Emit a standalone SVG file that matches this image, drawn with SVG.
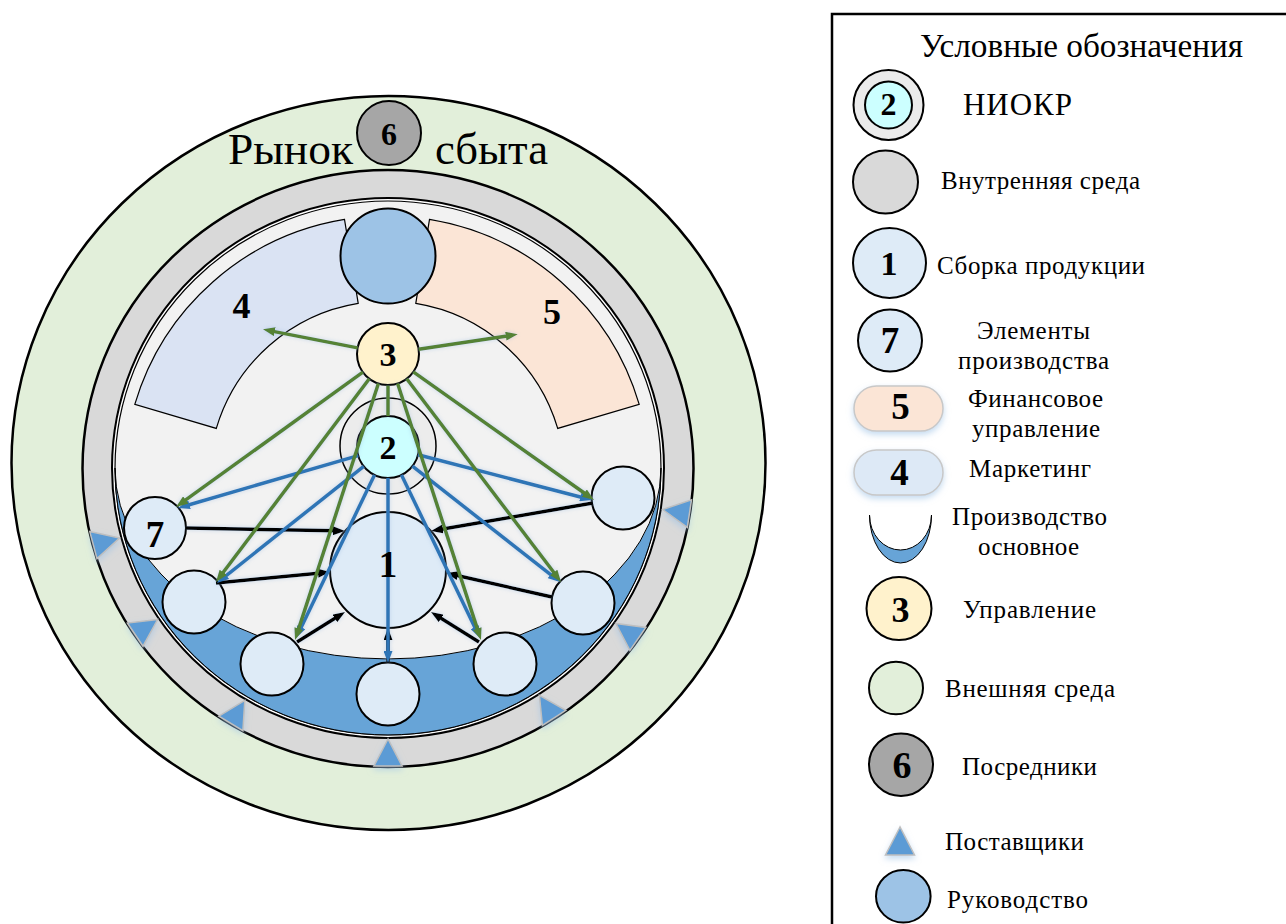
<svg xmlns="http://www.w3.org/2000/svg" width="1286" height="924" viewBox="0 0 1286 924">
  <style>
    .lbl { font-family: "Liberation Serif", "Times New Roman", serif; fill: #000; }
    .num { font-family: "Liberation Serif", "Times New Roman", serif; font-weight: bold; text-anchor: middle; fill: #000; }
    .node { stroke: #000; stroke-width: 2; }
    .elem { fill: #deebf7; stroke: #000; stroke-width: 2; }
    .g { stroke: #548235; stroke-width: 3.5; fill: none; }
    .b { stroke: #2e75b6; stroke-width: 3.5; fill: none; }
    .k { stroke: #000; stroke-width: 3.5; fill: none; }
    .sup { fill: #5b9bd5; stroke: #bfbfbf; stroke-width: 1.5; }
    .leg { font-size: 25px; text-anchor: middle; }
  </style>
  <defs>
    <marker id="ah-g" viewBox="0 0 12 9" refX="3" refY="4.5" markerWidth="12" markerHeight="9" markerUnits="userSpaceOnUse" orient="auto">
      <path d="M0,0 L12,4.5 L0,9 z" fill="#548235"/>
    </marker>
    <marker id="ah-b" viewBox="0 0 12 9" refX="3" refY="4.5" markerWidth="12" markerHeight="9" markerUnits="userSpaceOnUse" orient="auto">
      <path d="M0,0 L12,4.5 L0,9 z" fill="#2e75b6"/>
    </marker>
    <marker id="ah-k" viewBox="0 0 12 9" refX="3" refY="4.5" markerWidth="12" markerHeight="9" markerUnits="userSpaceOnUse" orient="auto">
      <path d="M0,0 L12,4.5 L0,9 z" fill="#000"/>
    </marker>
    <filter id="halo" x="-20%" y="-20%" width="140%" height="140%">
      <feDropShadow dx="0" dy="0" stdDeviation="2" flood-color="#8fb4dc" flood-opacity="0.45"/>
    </filter>
    <filter id="soft" x="-30%" y="-30%" width="160%" height="180%">
      <feDropShadow dx="0" dy="3" stdDeviation="3" flood-color="#9dc3e6" flood-opacity="0.6"/>
    </filter>
  </defs>

  <!-- environment rings -->
  <g id="external-env">
    <ellipse cx="388.5" cy="463" rx="377" ry="367" fill="#e2efda" stroke="#000" stroke-width="2.5"/>
  </g>
  <g id="internal-env">
    <ellipse cx="388" cy="468.5" rx="305.5" ry="298.5" fill="#d9d9d9" stroke="#000" stroke-width="2.5"/>
    <ellipse cx="388" cy="468" rx="276" ry="270" fill="#ffffff" stroke="#000" stroke-width="2"/>
    <ellipse cx="388" cy="468" rx="273" ry="267" fill="#f2f2f2" stroke="#000" stroke-width="1.2"/>
  </g>

  <!-- main production crescent -->
  <g id="production">
    <path d="M115,468 A273,267 0 0 0 661,468 A273,191 0 0 1 115,468 Z" fill="#67a4d7" stroke="#000" stroke-width="1"/>
  </g>

  <!-- marketing and finance sectors -->
  <g id="marketing">
    <path d="M134.8,404.3 A263,263 0 0 1 344.5,219.4 L358.2,303.3 A178,178 0 0 0 216.3,428.4 Z" fill="#dae3f3" stroke="#000" stroke-width="1.2"/>
    <text class="num" x="241.5" y="318" font-size="36">4</text>
  </g>
  <g id="finance">
    <path d="M429.5,219.4 A263,263 0 0 1 639.2,404.3 L557.7,428.4 A178,178 0 0 0 415.8,303.3 Z" fill="#fbe5d6" stroke="#000" stroke-width="1.2"/>
    <text class="num" x="552" y="324" font-size="36">5</text>
  </g>

  <g id="leadership">
    <circle cx="388" cy="256" r="47.5" fill="#9dc3e6" class="node"/>
  </g>

  <!-- nodes -->
  <g id="n3">
    <circle cx="388" cy="354" r="31" fill="#fff2cc" class="node"/>
    <text class="num" x="388" y="366" font-size="34">3</text>
  </g>
  <g id="n2">
    <circle cx="388" cy="446" r="48" fill="#ececec" stroke="#000" stroke-width="1.5"/>
    <circle cx="388" cy="447" r="31" fill="#ccffff" class="node"/>
    <text class="num" x="388" y="459" font-size="34">2</text>
  </g>
  <g id="n1">
    <circle cx="388" cy="570" r="58" class="elem"/>
  </g>
  <g id="n7">
    <circle cx="155" cy="528" r="31" class="elem"/>
    <text class="num" x="155" y="547" font-size="37">7</text>
  </g>
  <g id="e-left2"><circle cx="194" cy="602" r="31.5" class="elem"/></g>
  <g id="e-left3"><circle cx="272" cy="664" r="31.5" class="elem"/></g>
  <g id="e-bottom"><circle cx="388" cy="694" r="31.5" class="elem"/></g>
  <g id="e-right3"><circle cx="505" cy="664" r="31.5" class="elem"/></g>
  <g id="e-right2"><circle cx="583" cy="603" r="31.5" class="elem"/></g>
  <g id="e-righttop"><circle cx="623" cy="498" r="31.5" class="elem"/></g>

  <!-- connectors -->
  <g id="connectors" filter="url(#halo)">
    <!-- element flows into assembly -->
    <line class="k" x1="388" y1="663" x2="388" y2="637" marker-end="url(#ah-k)"/>
    <line class="k" x1="186" y1="528" x2="336" y2="530.8" marker-end="url(#ah-k)"/>
    <line class="k" x1="216" y1="583" x2="321" y2="572.9" marker-end="url(#ah-k)"/>
    <line class="k" x1="297" y1="642" x2="337.4" y2="616.8" marker-end="url(#ah-k)"/>
    <line class="k" x1="479" y1="642" x2="438.6" y2="616.8" marker-end="url(#ah-k)"/>
    <line class="k" x1="552" y1="597" x2="454.8" y2="575" marker-end="url(#ah-k)"/>
    <line class="k" x1="593" y1="503" x2="439.9" y2="529.5" marker-end="url(#ah-k)"/>
    <!-- R&D links -->
    <line class="b" x1="358.2" y1="455.6" x2="186.6" y2="505.5" marker-end="url(#ah-b)"/>
    <line class="b" x1="363.7" y1="466.3" x2="224" y2="577.4" marker-end="url(#ah-b)"/>
    <line class="b" x1="374.5" y1="474.9" x2="299.9" y2="629.9" marker-end="url(#ah-b)"/>
    <line class="b" x1="388" y1="478" x2="388" y2="654" marker-end="url(#ah-b)"/>
    <line class="b" x1="401.5" y1="474.9" x2="476.1" y2="629.9" marker-end="url(#ah-b)"/>
    <line class="b" x1="412.4" y1="466.2" x2="552.9" y2="576.4" marker-end="url(#ah-b)"/>
    <line class="b" x1="418" y1="454.8" x2="583.3" y2="497.7" marker-end="url(#ah-b)"/>
    <!-- management links -->
    <line class="g" x1="357.6" y1="347.9" x2="271.8" y2="331.1" marker-end="url(#ah-g)"/>
    <line class="g" x1="418.6" y1="349.3" x2="508.8" y2="335.7" marker-end="url(#ah-g)"/>
    <line class="g" x1="362.9" y1="372.1" x2="183.3" y2="501.7" marker-end="url(#ah-g)"/>
    <line class="g" x1="369.3" y1="378.7" x2="221.4" y2="574.8" marker-end="url(#ah-g)"/>
    <line class="g" x1="378.4" y1="383.5" x2="297.8" y2="631.4" marker-end="url(#ah-g)"/>
    <line class="g" x1="388" y1="385.5" x2="388" y2="416"/>
    <line class="g" x1="397.6" y1="383.5" x2="478.2" y2="631.4" marker-end="url(#ah-g)"/>
    <line class="g" x1="406.7" y1="378.7" x2="555.6" y2="574.8" marker-end="url(#ah-g)"/>
    <line class="g" x1="413.3" y1="371.9" x2="586.7" y2="494.8" marker-end="url(#ah-g)"/>
  </g>

  <g id="n1-label">
    <text class="num" x="388" y="577" font-size="37">1</text>
  </g>

  <!-- suppliers on the internal ring -->
  <g id="suppliers" filter="url(#soft)">
    <polygon class="sup" points="662.7,509.5 687.3,527.4 691.5,499.8"/>
    <polygon class="sup" points="615.8,623.4 629.9,650.4 645.9,627.4"/>
    <polygon class="sup" points="539.4,695.3 542.4,725.5 565.8,710.3"/>
    <polygon class="sup" points="388,739 374,766 402,766"/>
    <polygon class="sup" points="244.8,700.3 218.9,716.2 242.9,730.6"/>
    <polygon class="sup" points="157.6,619.5 127.4,623 143,646.2"/>
    <polygon class="sup" points="119.5,538.1 89.8,531.6 97,558.6"/>
  </g>

  <!-- market label with intermediaries -->
  <g id="market">
    <text class="lbl" x="228" y="164" font-size="44" textLength="125" lengthAdjust="spacingAndGlyphs">Рынок</text>
    <text class="lbl" x="435" y="164" font-size="44" textLength="113" lengthAdjust="spacingAndGlyphs">сбыта</text>
  </g>
  <g id="n6">
    <circle cx="389" cy="133" r="32" fill="#a6a6a6" class="node"/>
    <text class="num" x="389" y="145" font-size="32">6</text>
  </g>

  <!-- legend -->
  <g id="legend">
    <rect x="832" y="14" width="470" height="930" fill="#fff" stroke="#000" stroke-width="2.5"/>
    <text class="lbl" x="1081.5" y="57" font-size="33" text-anchor="middle" textLength="323" lengthAdjust="spacingAndGlyphs">Условные обозначения</text>

    <g id="leg-rnd">
      <circle cx="888.5" cy="105" r="35" fill="#ebebeb" class="node"/>
      <circle cx="888.5" cy="105" r="23.5" fill="#ccffff" class="node"/>
      <text class="num" x="888.5" y="115" font-size="32">2</text>
      <text class="lbl" x="1017.5" y="115" font-size="31" text-anchor="middle" textLength="109">НИОКР</text>
    </g>
    <g id="leg-internal">
      <ellipse cx="885.5" cy="182" rx="32.5" ry="31.5" fill="#d9d9d9" class="node"/>
      <text class="lbl leg" x="1040.5" y="189" textLength="199">Внутренняя среда</text>
    </g>
    <g id="leg-assembly">
      <ellipse cx="889.5" cy="263" rx="36.5" ry="35" class="elem"/>
      <text class="num" x="889" y="275" font-size="34">1</text>
      <text class="lbl leg" x="1041" y="274" textLength="208">Сборка продукции</text>
    </g>
    <g id="leg-elements">
      <ellipse cx="890" cy="340.5" rx="32" ry="31" class="elem"/>
      <text class="num" x="890" y="352.5" font-size="37">7</text>
      <text class="lbl leg" x="1033.5" y="339" textLength="113">Элементы</text>
      <text class="lbl leg" x="1033.5" y="369" textLength="151">производства</text>
    </g>
    <g id="leg-finance">
      <rect x="854" y="386" width="89" height="45" rx="22.5" fill="#fbe5d6" stroke="#c8c8c8" stroke-width="1.5" filter="url(#soft)"/>
      <text class="num" x="900.5" y="419" font-size="37">5</text>
      <text class="lbl leg" x="1035.5" y="407" textLength="135">Финансовое</text>
      <text class="lbl leg" x="1036" y="437" textLength="128">управление</text>
    </g>
    <g id="leg-marketing">
      <rect x="854" y="450" width="89" height="45" rx="22.5" fill="#dde9f6" stroke="#c8c8c8" stroke-width="1.5" filter="url(#soft)"/>
      <text class="num" x="899.5" y="485" font-size="37">4</text>
      <text class="lbl leg" x="1030" y="477" textLength="122">Маркетинг</text>
    </g>
    <g id="leg-production">
      <path d="M869.5,515 A31,48 0 0 0 931.5,515 A31,35 0 0 1 869.5,515 Z" fill="#67a4d7" stroke="#000" stroke-width="1"/>
      <text class="lbl leg" x="1029.5" y="525" textLength="155">Производство</text>
      <text class="lbl leg" x="1028.5" y="555" textLength="101">основное</text>
    </g>
    <g id="leg-management">
      <ellipse cx="899" cy="608.5" rx="32.5" ry="31.5" fill="#fff2cc" class="node"/>
      <text class="num" x="900.5" y="621.5" font-size="36">3</text>
      <text class="lbl leg" x="1029.5" y="618" textLength="133">Управление</text>
    </g>
    <g id="leg-external">
      <ellipse cx="896" cy="688" rx="27" ry="26.3" fill="#e2efda" class="node"/>
      <text class="lbl leg" x="1030" y="697" textLength="170">Внешняя среда</text>
    </g>
    <g id="leg-intermediaries">
      <ellipse cx="901" cy="764.7" rx="32" ry="31.3" fill="#a6a6a6" class="node"/>
      <text class="num" x="902" y="778" font-size="38">6</text>
      <text class="lbl leg" x="1029.5" y="775" textLength="135">Посредники</text>
    </g>
    <g id="leg-suppliers">
      <polygon class="sup" points="900,827 885.5,855 914.5,855" filter="url(#soft)"/>
      <text class="lbl leg" x="1014.5" y="850" textLength="139">Поставщики</text>
    </g>
    <g id="leg-leadership">
      <ellipse cx="903.3" cy="896.3" rx="27.3" ry="26.3" fill="#9dc3e6" class="node"/>
      <text class="lbl leg" x="1017.5" y="908" textLength="141">Руководство</text>
    </g>
  </g>
</svg>
